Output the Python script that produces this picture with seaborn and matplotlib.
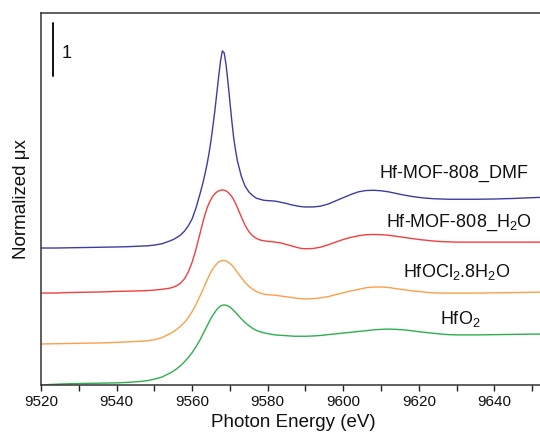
import numpy as np
import pandas as pd
import matplotlib
matplotlib.use("Agg")
import matplotlib.pyplot as plt
import seaborn as sns

# ---------------- data ----------------
energy = [9520, 9524, 9528, 9532, 9536, 9540, 9543, 9546, 9548, 9550, 9552,
          9554, 9555, 9556, 9557, 9558, 9559,
          9560, 9561, 9562, 9562.5, 9563, 9563.5, 9564, 9564.5, 9565, 9565.5,
          9566, 9566.5, 9567, 9567.5, 9568, 9568.5, 9569, 9569.5, 9570, 9570.5,
          9571, 9571.5, 9572, 9573, 9574,
          9575, 9576, 9577, 9578, 9579, 9580, 9581, 9582, 9583, 9584, 9585,
          9586, 9587, 9588, 9589, 9590,
          9592, 9594, 9596, 9598, 9600, 9602, 9604, 9606, 9608, 9610, 9612,
          9614, 9616, 9618, 9620, 9622, 9624, 9626, 9628, 9630,
          9635, 9640, 9645, 9650, 9654]

mu_dmf = [0.00, 0.00, 0.005, 0.01, 0.015, 0.02, 0.025, 0.035, 0.04, 0.055, 0.08,
          0.13, 0.16, 0.20, 0.25, 0.32, 0.42,
          0.55, 0.75, 1.00, 1.13, 1.27, 1.43, 1.60, 1.80, 2.03, 2.30,
          2.58, 2.90, 3.22, 3.52, 3.72, 3.68, 3.45, 3.12, 2.76, 2.40,
          2.08, 1.84, 1.64, 1.36, 1.17,
          1.06, 0.99, 0.94, 0.92, 0.90, 0.895, 0.89, 0.885, 0.87, 0.855, 0.84,
          0.82, 0.805, 0.79, 0.78, 0.775,
          0.775, 0.79, 0.83, 0.89, 0.95, 1.01, 1.06, 1.085, 1.09, 1.08, 1.06,
          1.03, 1.00, 0.975, 0.955, 0.94, 0.93, 0.925, 0.92, 0.92,
          0.92, 0.925, 0.935, 0.95, 0.96]

mu_h2o = [0.00, 0.00, 0.01, 0.015, 0.02, 0.03, 0.035, 0.04, 0.045, 0.055, 0.07,
          0.09, 0.11, 0.14, 0.19, 0.27, 0.40,
          0.58, 0.82, 1.10, 1.24, 1.38, 1.50, 1.61, 1.70, 1.77, 1.83,
          1.87, 1.905, 1.925, 1.94, 1.945, 1.94, 1.925, 1.90, 1.865, 1.82,
          1.76, 1.69, 1.61, 1.44, 1.28,
          1.16, 1.08, 1.03, 1.00, 0.985, 0.975, 0.97, 0.96, 0.95, 0.935, 0.915,
          0.895, 0.875, 0.855, 0.84, 0.835,
          0.84, 0.865, 0.91, 0.96, 1.01, 1.05, 1.08, 1.10, 1.105, 1.10, 1.09,
          1.07, 1.05, 1.03, 1.01, 0.995, 0.98, 0.97, 0.965, 0.96,
          0.96, 0.96, 0.96, 0.96, 0.96]

mu_ocl = [0.00, 0.005, 0.01, 0.015, 0.02, 0.03, 0.04, 0.05, 0.06, 0.08, 0.12,
          0.19, 0.23, 0.28, 0.34, 0.41, 0.50,
          0.61, 0.74, 0.89, 0.97, 1.05, 1.13, 1.21, 1.29, 1.36, 1.42,
          1.47, 1.51, 1.545, 1.565, 1.575, 1.575, 1.565, 1.545, 1.52, 1.49,
          1.45, 1.40, 1.35, 1.255, 1.165,
          1.09, 1.035, 0.99, 0.96, 0.94, 0.93, 0.925, 0.92, 0.91, 0.90, 0.89,
          0.88, 0.87, 0.86, 0.855, 0.85,
          0.855, 0.87, 0.895, 0.93, 0.965, 1.00, 1.03, 1.06, 1.075, 1.075, 1.065,
          1.045, 1.025, 1.005, 0.99, 0.975, 0.965, 0.96, 0.96, 0.96,
          0.96, 0.965, 0.97, 0.975, 0.98]

mu_hfo2 = [0.00, 0.015, 0.025, 0.03, 0.035, 0.04, 0.05, 0.065, 0.08, 0.11, 0.15,
           0.22, 0.26, 0.31, 0.37, 0.44, 0.52,
           0.61, 0.72, 0.84, 0.91, 0.98, 1.05, 1.12, 1.19, 1.26, 1.32,
           1.37, 1.42, 1.46, 1.49, 1.505, 1.51, 1.505, 1.49, 1.47, 1.44,
           1.405, 1.37, 1.33, 1.25, 1.18,
           1.12, 1.07, 1.03, 1.005, 0.985, 0.97, 0.955, 0.945, 0.94, 0.935, 0.93,
           0.925, 0.92, 0.92, 0.92, 0.92,
           0.925, 0.935, 0.95, 0.965, 0.98, 0.995, 1.01, 1.025, 1.04, 1.05, 1.055,
           1.05, 1.04, 1.025, 1.005, 0.99, 0.975, 0.96, 0.95, 0.945,
           0.945, 0.95, 0.955, 0.96, 0.96]

samples = ["Hf-MOF-808_DMF", "Hf-MOF-808_H2O", "HfOCl2.8H2O", "HfO2"]
offsets = [2.585, 1.736, 0.774, 0.0]
labels = ["Hf-MOF-808_DMF",
          r"Hf-MOF-808_H$_\mathregular{2}$O",
          r"HfOCl$_\mathregular{2}$.8H$_\mathregular{2}$O",
          r"HfO$_\mathregular{2}$"]
label_x = [9649.0, 9650.0, 9644.3, 9636.4]
label_y = [3.91, 2.98, 2.04, 1.15]
colors = ["#3D3DA0", "#F0403F", "#FBA048", "#2EAF4E"]

series = [mu_dmf, mu_h2o, mu_ocl, mu_hfo2]

frames = []
for name, mu, off in zip(samples, series, offsets):
    frames.append(pd.DataFrame({"energy": energy,
                                "mu": np.array(mu) + off,
                                "sample": name}))
df = pd.concat(frames, ignore_index=True)

# ---------------- style ----------------
sns.set_style("ticks")
plt.rcParams["font.family"] = ["Liberation Sans", "DejaVu Sans"]
plt.rcParams["mathtext.fontset"] = "custom"
plt.rcParams["mathtext.rm"] = "Liberation Sans"
plt.rcParams["mathtext.it"] = "Liberation Sans:italic"

fig = plt.figure(figsize=(5.4, 4.44), dpi=100)
ax = fig.add_axes([0.0759, 0.1329, 0.9341, 0.8378])

sns.lineplot(data=df, x="energy", y="mu", hue="sample", hue_order=samples,
             palette=colors, estimator=None, sort=False, legend=False,
             linewidth=1.0, ax=ax)

ax.set_xlim(9520, 9653.5)
ax.set_ylim(0, 7.02)
ax.set_xticks([9520, 9540, 9560, 9580, 9600, 9620, 9640])
ax.set_xticks(np.arange(9530, 9660, 20), minor=True)
ax.set_yticks([])
ax.tick_params(axis="x", which="both", direction="out", length=4, width=1.0,
               labelsize=11, pad=3, colors="#222222")
ax.tick_params(axis="x", labelcolor="#111111")

for s in ["top", "left", "bottom"]:
    ax.spines[s].set_visible(True)
    ax.spines[s].set_linewidth(1.1)
    ax.spines[s].set_color("#333333")
ax.spines["right"].set_visible(False)

ax.set_xlabel("Photon Energy (eV)", fontsize=13.5, labelpad=4, color="#111111")
ax.set_ylabel("Normalized \u03bcx", fontsize=13.5, labelpad=8, color="#111111")

for lab, lx, ly in zip(labels, label_x, label_y):
    ax.text(lx, ly, lab, ha="right", va="baseline", fontsize=13, color="#111111")

# scale bar of 1 unit
ax.plot([9523.1, 9523.1], [5.83, 6.83], color="#111111", linewidth=1.4)
ax.text(9526.8, 6.17, "1", ha="center", va="baseline", fontsize=13, color="#111111")

fig.savefig("out.png", dpi=100)
